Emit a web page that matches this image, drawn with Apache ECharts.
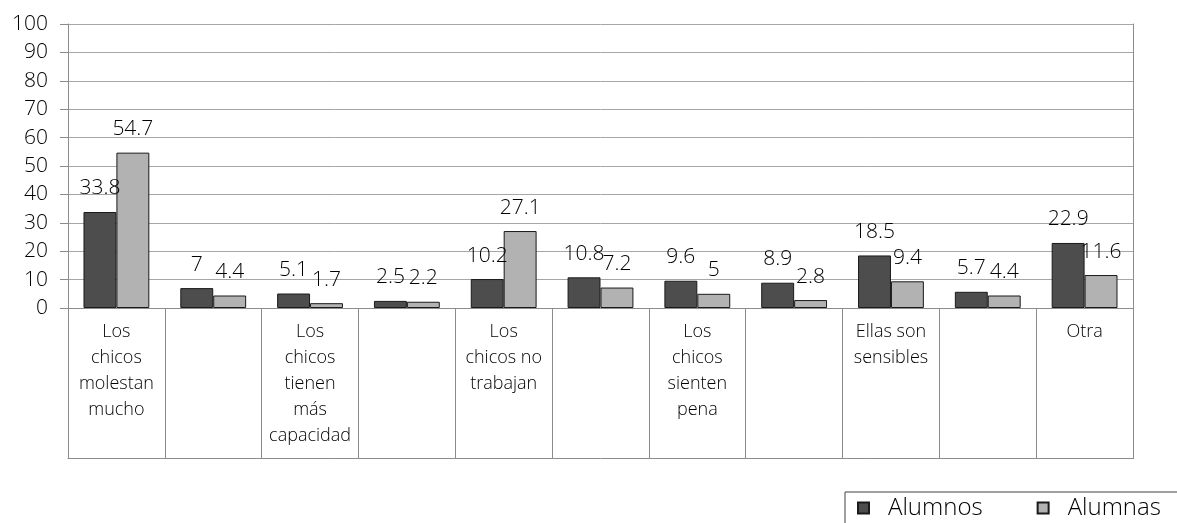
<!DOCTYPE html>
<html>
<head>
<meta charset="utf-8">
<script src="https://cdn.jsdelivr.net/npm/echarts@6/dist/echarts.min.js"></script>
<style>
  html, body { margin: 0; padding: 0; background: #fff; }
  #chart { width: 1177px; height: 523px; }
</style>
</head>
<body>
<div id="chart"></div>
<script>
// categories (every second one has no label in the source)
const categories = [
    'Los\nchicos\nmolestan\nmucho',
    '',
    'Los\nchicos\ntienen\nmás\ncapacidad',
    '',
    'Los\nchicos no\ntrabajan',
    '',
    'Los\nchicos\nsienten\npena',
    '',
    'Ellas son\nsensibles',
    '',
    'Otra',
]
const alumnos = [33.8, 7, 5.1, 2.5, 10.2, 10.8, 9.6, 8.9, 18.5, 5.7, 22.9]
const alumnas = [54.7, 4.4, 1.7, 2.2, 27.1, 7.2, 5, 2.8, 9.4, 4.4, 11.6]
const yTicks = { min: 0, max: 100, interval: 10 }

const font = '"Open Sans", "Noto Sans", sans-serif'
const weight = 300
const colors = {
    alumnos: '#4d4d4d',
    alumnas: '#b2b2b2',
    border: '#1a1a1a',
    text: '#000',
    grid: '#a6a6a6',
    axis: '#8c8c8c',
}

const barSeries = (name, data, color) => ({
    name,
    type: 'bar',
    data,
    barGap: '0%',
    barCategoryGap: '32%',
    itemStyle: { color, borderColor: colors.border, borderWidth: 1 },
    label: {
        show: true,
        position: 'top',
        distance: 13,
        fontFamily: font,
        fontWeight: weight,
        fontSize: 21,
        color: colors.text,
    },
})

const chart = echarts.init(document.getElementById('chart'))
chart.setOption({
    animation: false,
    backgroundColor: '#fff',
    textStyle: { fontFamily: font, fontWeight: weight },
    grid: { left: 68, right: 44, top: 24, bottom: 215 },
    legend: {
        left: 845,
        top: 492,
        width: 400,
        padding: [4, 60, 30, 12],
        borderColor: '#404040',
        borderWidth: 1,
        itemWidth: 11,
        itemHeight: 11,
        itemGap: 54,
        icon: 'rect',
        textStyle: { fontFamily: font, fontWeight: weight, fontSize: 24, color: colors.text, padding: [0, 0, 0, 14] },
    },
    xAxis: [
        {
            type: 'category',
            data: categories,
            axisLine: { show: true, lineStyle: { color: colors.axis } },
            axisTick: { show: false },
            axisLabel: { show: false },
        },
        {
            // box style label row under the axis
            type: 'category',
            data: categories,
            position: 'bottom',
            offset: 5,
            axisLine: { show: false },
            axisTick: { show: true, length: 151, interval: 0, lineStyle: { color: colors.axis } },
            axisLabel: {
                interval: 0,
                margin: 6,
                fontFamily: font,
                fontWeight: weight,
                fontSize: 18,
                lineHeight: 26,
                color: colors.text,
                align: 'center',
                verticalAlign: 'top',
            },
        },
        {
            type: 'category',
            data: categories,
            position: 'bottom',
            offset: 150,
            axisLine: { show: true, lineStyle: { color: colors.axis } },
            axisTick: { show: false },
            axisLabel: { show: false },
        },
    ],
    yAxis: [
        {
            type: 'value',
            min: yTicks.min,
            max: yTicks.max,
            interval: yTicks.interval,
            axisLine: { show: true, lineStyle: { color: colors.axis } },
            axisTick: { show: true, length: 8, lineStyle: { color: colors.axis } },
            axisLabel: { margin: 20, fontFamily: font, fontWeight: weight, fontSize: 21, color: colors.text },
            splitLine: { lineStyle: { color: colors.grid } },
        },
        {
            type: 'value',
            position: 'right',
            min: yTicks.min,
            max: yTicks.max,
            interval: yTicks.interval,
            axisLine: { show: true, lineStyle: { color: colors.axis } },
            axisTick: { show: false },
            axisLabel: { show: false },
            splitLine: { show: false },
        },
    ],
    series: [
        barSeries('Alumnos', alumnos, colors.alumnos),
        barSeries('Alumnas', alumnas, colors.alumnas),
    ],
})
</script>
</body>
</html>
